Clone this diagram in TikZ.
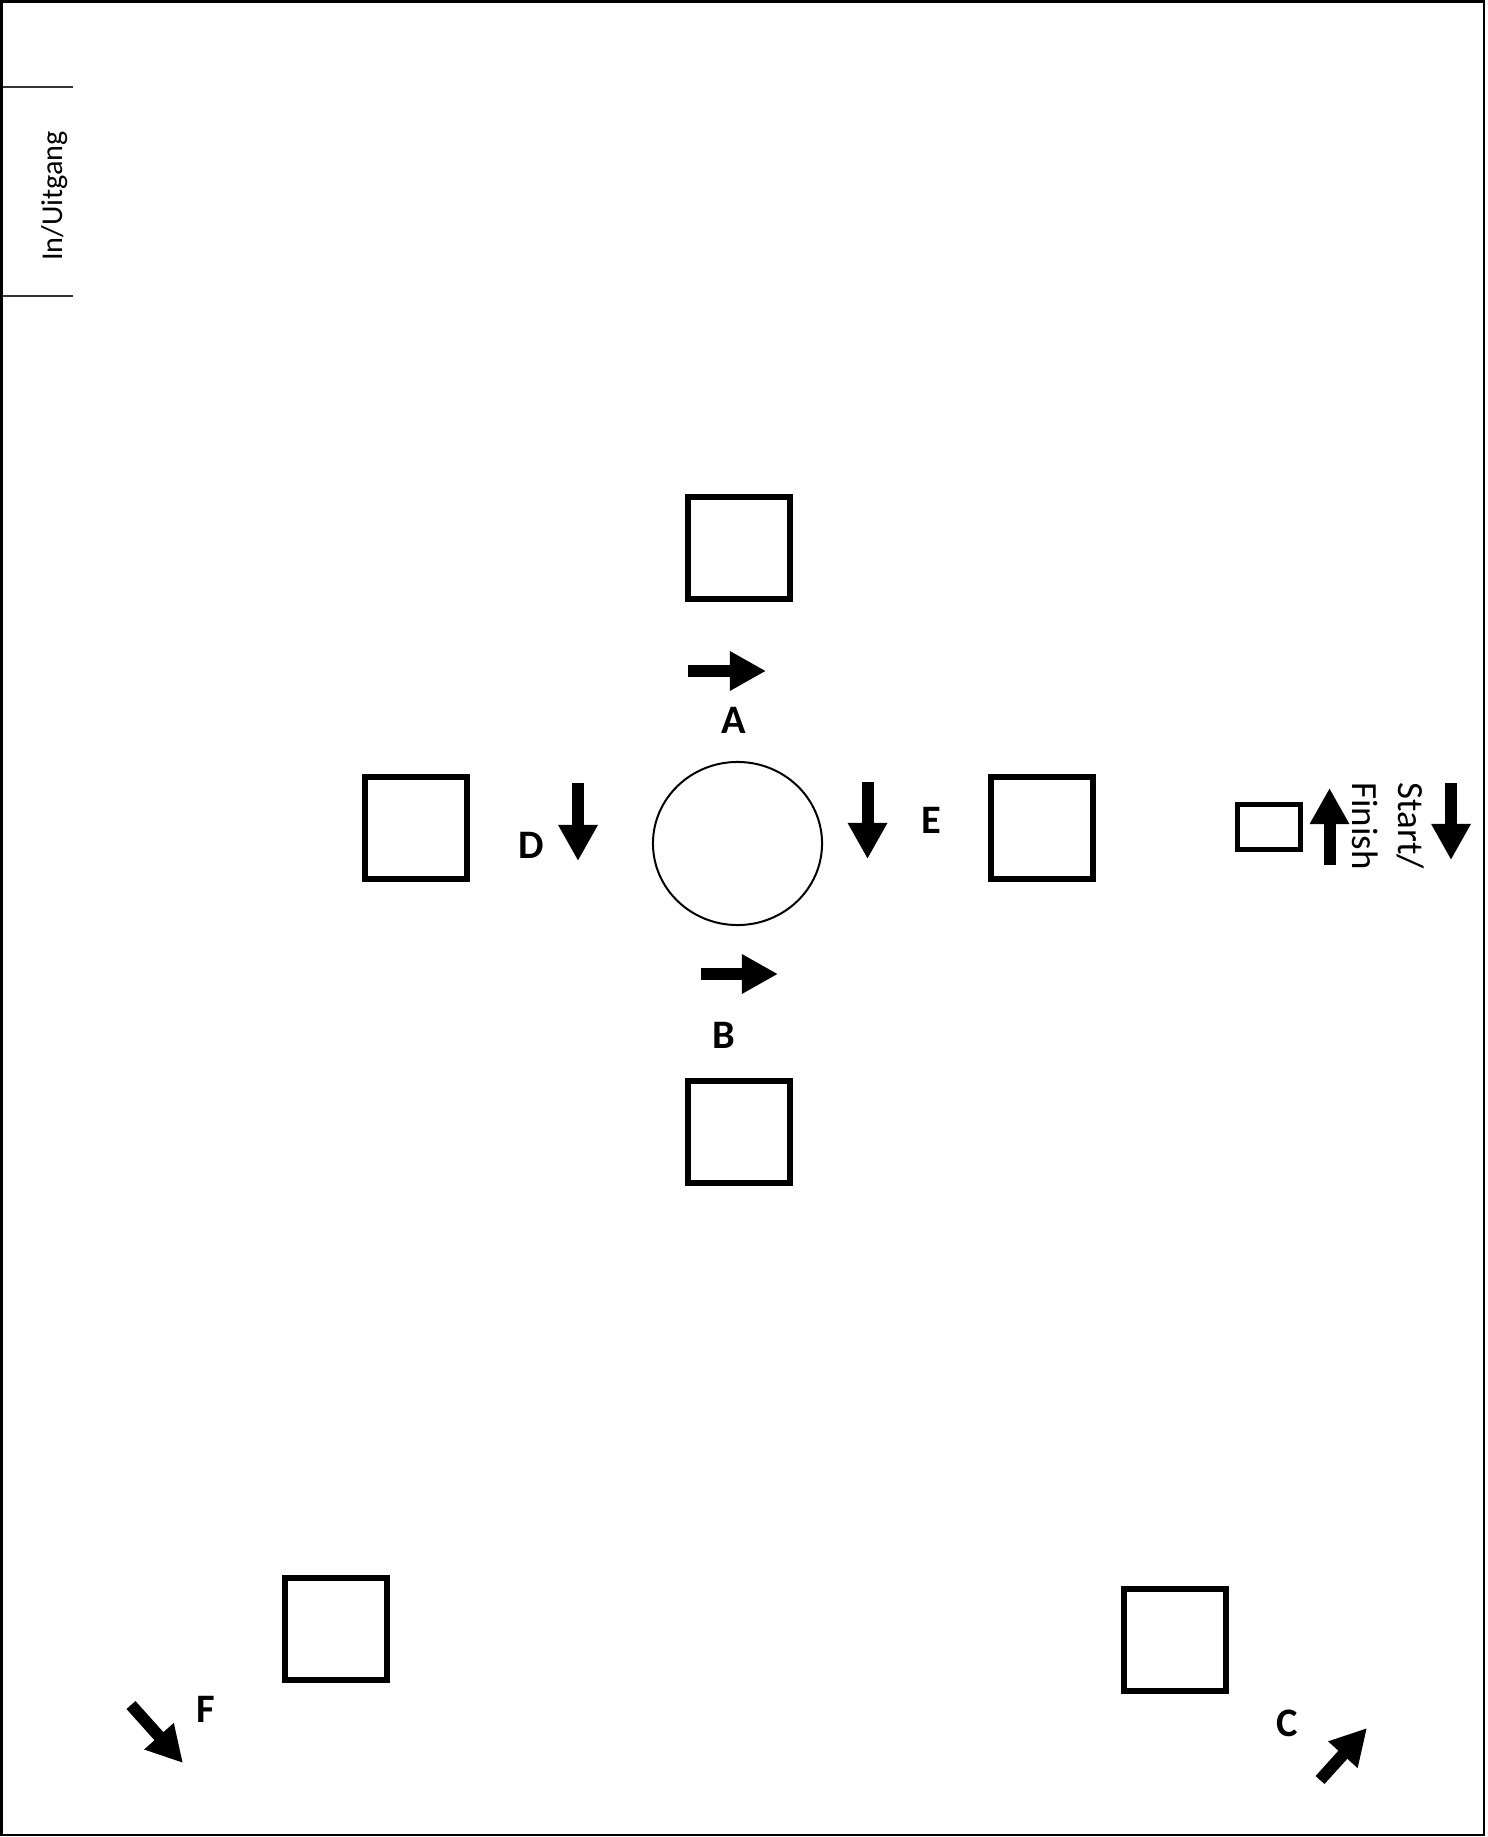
\documentclass[tikz,border=0pt]{standalone}
\usepackage{fontspec}
\setmainfont{Carlito}
\usetikzlibrary{arrows.meta,shapes.geometric}

\begin{document}
\begin{tikzpicture}[x=0.01cm,y=-0.01cm,
    post/.style={draw,line width=0.06cm,minimum size=1.02cm,inner sep=0},
    dir/.style={line width=0.12cm,-{Triangle[length=0.36cm,width=0.37cm]}},
    lbl/.style={font=\fontsize{11.5}{13}\selectfont\bfseries,inner sep=0}]
    \useasboundingbox (0,0) rectangle (1487,1837);
    \draw[line width=0.028cm] (1.5,1.5) rectangle (1484,1835);
    % in/uitgang
    \draw[black!80,line width=0.015cm] (3,87) -- (73,87);
    \draw[black!80,line width=0.015cm] (3,296) -- (73,296);
    \node[rotate=90,inner sep=0,font=\fontsize{8.6}{10}\selectfont] (gate) at (55,196) {In/Uitgang};
    % posts
    \foreach \n/\x/\y in {postN/739/548,postW/416/828,postE/1042/828,postS/739/1132,postSW/336/1629,postSE/1175/1640}
      {\node[post] (\n) at (\x,\y) {};}
    \node[draw,ellipse,line width=0.02cm,minimum width=1.69cm,minimum height=1.63cm,inner sep=0] (pole) at (737.5,843.5) {};
    \node[draw,line width=0.05cm,minimum width=0.63cm,minimum height=0.45cm,inner sep=0] (start) at (1269,827) {};
    \node[rotate=-90,align=center,inner sep=0,font=\fontsize{10.5}{13}\selectfont] (startlbl) at (1388,826) {Start/\\Finish};
    % directions
    \draw[dir] (688,671) -- (766,671);
    \draw[dir] (701,974) -- (778,974);
    \draw[dir] (578,783) -- (578,861);
    \draw[dir] (867.5,782) -- (867.5,859);
    \draw[dir] (1329.5,865) -- (1329.5,788);
    \draw[dir] (1451,783) -- (1451,860);
    \draw[dir] (131,1705) -- (183,1763);
    \draw[dir] (1320,1780) -- (1367,1728);
    \node[lbl] (lA) at (734,720) {A};
    \node[lbl] (lB) at (724,1035) {B};
    \node[lbl] (lC) at (1287,1723) {C};
    \node[lbl] (lD) at (531,845) {D};
    \node[lbl] (lE) at (931,820) {E};
    \node[lbl] (lF) at (206,1709) {F};
\end{tikzpicture}
\end{document}
